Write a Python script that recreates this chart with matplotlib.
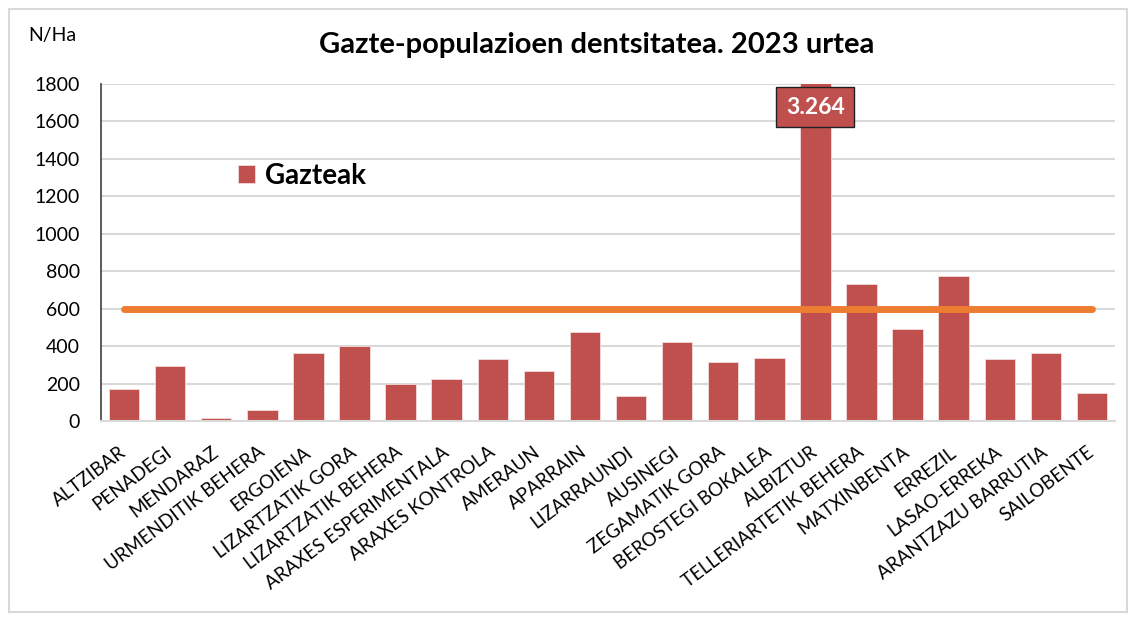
import numpy as np
import matplotlib
matplotlib.use("Agg")
import matplotlib.pyplot as plt
from matplotlib.patches import Rectangle

plt.rcParams['font.family'] = ['Lato', 'DejaVu Sans']

auzoak = ["ALTZIBAR", "PENADEGI", "MENDARAZ", "URMENDITIK BEHERA", "ERGOIENA",
          "LIZARTZATIK GORA", "LIZARTZATIK BEHERA", "ARAXES ESPERIMENTALA",
          "ARAXES KONTROLA", "AMERAUN", "APARRAIN", "LIZARRAUNDI", "AUSINEGI",
          "ZEGAMATIK GORA", "BEROSTEGI BOKALEA", "ALBIZTUR",
          "TELLERIARTETIK BEHERA", "MATXINBENTA", "ERREZIL", "LASAO-ERREKA",
          "ARANTZAZU BARRUTIA", "SAILOBENTE"]
gazteak = [170, 295, 14, 59, 364, 398, 195, 225, 329, 266, 473, 133, 421,
           313, 336, 3264, 729, 490, 773, 330, 364, 151]
muga = [600] * len(auzoak)
yticks = [0, 200, 400, 600, 800, 1000, 1200, 1400, 1600, 1800]

fig = plt.figure(figsize=(11.36, 6.17), dpi=100)
ax = fig.add_axes([0.0889, 0.3177, 0.8926, 0.5462])

x = np.arange(len(auzoak))
ax.bar(x, gazteak, width=0.66, color="#C0504D", edgecolor="#F2DCDB",
       linewidth=0.6, zorder=2, label="Gazteak")
ax.plot(x, muga, color="#ED7D31", linewidth=5, solid_capstyle="round", zorder=3)

ax.set_xlim(-0.5, len(auzoak) - 0.5)
ax.set_ylim(0, 1800)
ax.set_yticks(yticks)
ax.set_yticklabels([str(t) for t in yticks], fontsize=14)
ax.set_xticks(x)
ax.set_xticklabels(auzoak, rotation=37, ha="right", va="center",
                   rotation_mode="anchor", fontsize=13.5)
ax.tick_params(axis="both", length=0)
ax.tick_params(axis="y", pad=15)
ax.tick_params(axis="x", pad=21)
ax.yaxis.grid(True, color="#D9D9D9", linewidth=1.5, zorder=0)
ax.set_axisbelow(True)
for s in ["top", "right"]:
    ax.spines[s].set_visible(False)
ax.spines["left"].set_color("#404040")
ax.spines["left"].set_linewidth(1.2)
ax.spines["bottom"].set_color("#D9D9D9")
ax.spines["bottom"].set_linewidth(1.5)

# value label for the clipped bar
imax = int(np.argmax(gazteak))
ax.text(imax, 1677, f"{gazteak[imax]:,}".replace(",", "."), ha="center",
        va="center", color="white", fontsize=16.5, fontweight="bold", zorder=5,
        bbox=dict(boxstyle="square,pad=0.42", facecolor="#C0504D",
                  edgecolor="#202020", linewidth=1))

ax.legend(loc="center left", bbox_to_anchor=((238 - 101) / 1014, 0.728),
          frameon=False, borderpad=0, borderaxespad=0,
          handlelength=0.62, handleheight=0.62, handletextpad=0.35,
          prop=dict(size=20, weight="bold"))

fig.text(0.525, 0.927, "Gazte-populazioen dentsitatea. 2023 urtea",
         ha="center", va="center", fontsize=21, fontweight="bold")
fig.text(0.025, 0.943, "N/Ha", ha="left", va="center", fontsize=14)

fig.patches.append(Rectangle((0.008, 0.008), 0.984, 0.978, transform=fig.transFigure,
                             fill=False, edgecolor="#D9D9D9", linewidth=1.5))

fig.savefig("out.png", dpi=100)
